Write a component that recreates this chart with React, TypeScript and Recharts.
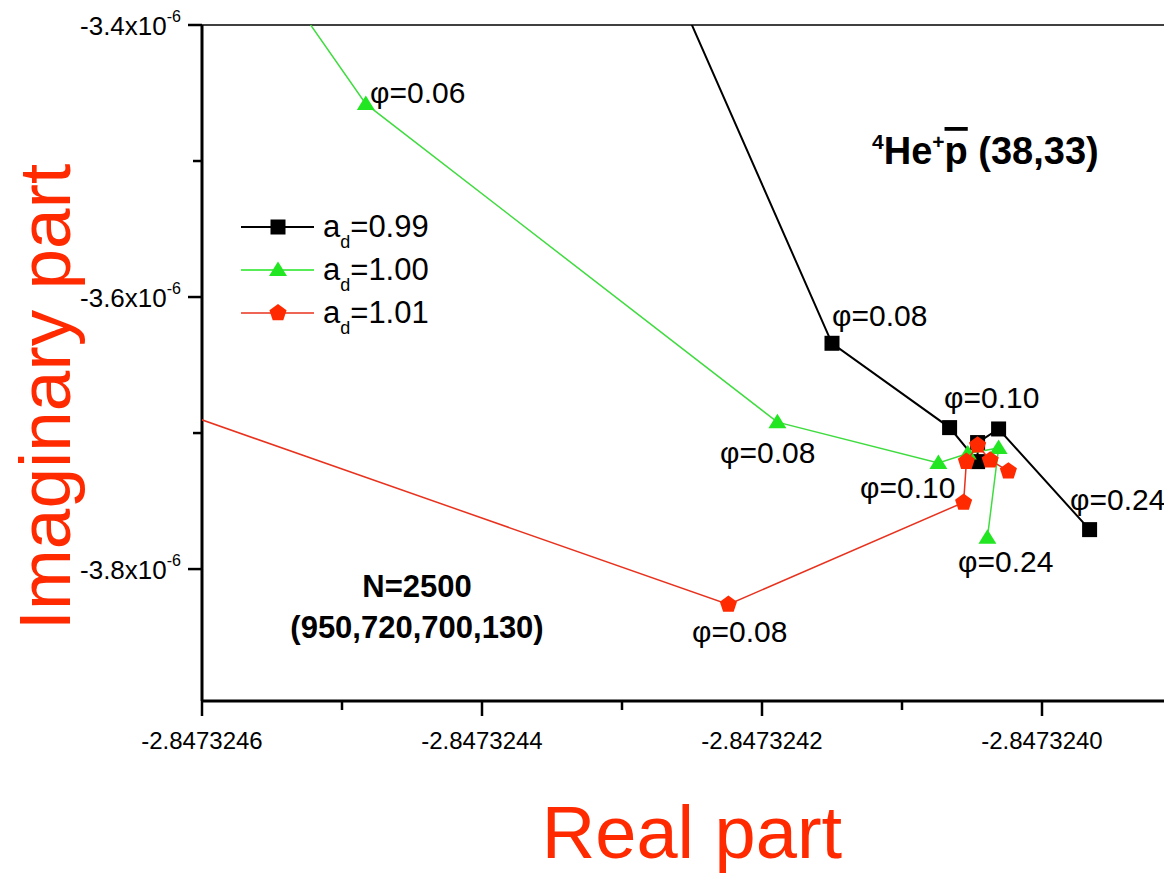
import {
  ScatterChart,
  Scatter,
  XAxis,
  YAxis,
  ReferenceLine,
  ReferenceDot,
} from "recharts";

// real part / imaginary part of the complex energy, per scaling parameter a_d
const black099 = [
  { x: -2.84732428, y: -3.33e-6 },
  { x: -2.84732415, y: -3.634e-6 },
  { x: -2.847324066, y: -3.696e-6 },
  { x: -2.847324046, y: -3.721e-6 },
  { x: -2.847324046, y: -3.707e-6 },
  { x: -2.847324031, y: -3.697e-6 },
  { x: -2.847323966, y: -3.771e-6 },
];

const green100 = [
  { x: -2.847324557, y: -3.349e-6 },
  { x: -2.847324483, y: -3.458e-6 },
  { x: -2.847324189, y: -3.692e-6 },
  { x: -2.847324074, y: -3.722e-6 },
  { x: -2.847324053, y: -3.715e-6 },
  { x: -2.847324031, y: -3.711e-6 },
  { x: -2.847324039, y: -3.777e-6 },
];

const red101 = [
  { x: -2.847324673, y: -3.664e-6 },
  { x: -2.847324224, y: -3.826e-6 },
  { x: -2.847324056, y: -3.751e-6 },
  { x: -2.847324054, y: -3.721e-6 },
  { x: -2.847324046, y: -3.709e-6 },
  { x: -2.847324037, y: -3.72e-6 },
  { x: -2.847324024, y: -3.728e-6 },
];

const xTicks = [
  -2.8473246, -2.8473245, -2.8473244, -2.8473243, -2.8473242, -2.8473241,
  -2.847324, -2.8473239,
];
const yTicks = [-3.8e-6, -3.7e-6, -3.6e-6, -3.5e-6, -3.4e-6];

// phi labels, anchored at their own spot in data space
const phiLabels = [
  { text: "φ=0.06", x: -2.84732448, y: -3.4574e-6 },
  { text: "φ=0.08", x: -2.84732415, y: -3.6213e-6 },
  { text: "φ=0.10", x: -2.84732407, y: -3.6816e-6 },
  { text: "φ=0.24", x: -2.84732398, y: -3.7566e-6 },
  { text: "φ=0.08", x: -2.84732423, y: -3.7221e-6 },
  { text: "φ=0.10", x: -2.84732413, y: -3.7478e-6 },
  { text: "φ=0.24", x: -2.84732406, y: -3.8022e-6 },
  { text: "φ=0.08", x: -2.84732425, y: -3.8537e-6 },
];

const legendNames = ["0.99", "1.00", "1.01"];

const FONT = "'Liberation Sans', Arial, Helvetica, sans-serif";
const RED = "#ff2a00";
const GREEN = "#22e622";

function Square(p: any) {
  return <rect x={p.cx - 7.5} y={p.cy - 7.5} width={15} height={15} fill="#000" />;
}

function Triangle(p: any) {
  const { cx, cy } = p;
  return (
    <path d={`M${cx},${cy - 8.5} L${cx + 9},${cy + 6} L${cx - 9},${cy + 6} Z`} fill={GREEN} />
  );
}

function pentagonPath(cx: number, cy: number, r: number) {
  const pts = [];
  for (let k = 0; k < 5; k++) {
    const a = ((-90 + k * 72) * Math.PI) / 180;
    pts.push(`${cx + r * Math.cos(a)},${cy + r * Math.sin(a)}`);
  }
  return `M${pts.join(" L")} Z`;
}

function Pentagon(p: any) {
  return <path d={pentagonPath(p.cx, p.cy, 9)} fill={RED} />;
}

function XTick({ x, y, payload }: any) {
  const major = Math.round(payload.value * 1e7) % 2 === 0;
  return (
    <g>
      <line x1={x} x2={x} y1={y} y2={y + (major ? 15 : 9)} stroke="#000" strokeWidth={2.5} />
      {major && (
        <text x={x} y={y + 48} textAnchor="middle" fontSize={24} fontFamily={FONT} fill="#000">
          {payload.value.toFixed(7)}
        </text>
      )}
    </g>
  );
}

function YTick({ x, y, payload }: any) {
  const major = Math.round(payload.value * 1e7) % 2 === 0;
  return (
    <g>
      <line x1={x} x2={x - (major ? 14 : 9)} y1={y} y2={y} stroke="#000" strokeWidth={2.5} />
      {major && (
        <text x={x - 21} y={y + 10} textAnchor="end" fontSize={26} fontFamily={FONT} fill="#000">
          {(payload.value * 1e6).toFixed(1)}x10
          <tspan dy={-13} fontSize={16}>
            -6
          </tspan>
        </text>
      )}
    </g>
  );
}

function PhiLabel(p: any, text: string) {
  return (
    <text x={p.cx} y={p.cy} fontSize={30} fontFamily={FONT} fill="#000">
      {text}
    </text>
  );
}

function LegendRow({ i }: { i: number }) {
  const cy = 227 + i * 43;
  const color = ["#000", GREEN, "#e8321e"][i];
  const Marker = [Square, Triangle, Pentagon][i];
  return (
    <g>
      <line x1={241} x2={314} y1={cy} y2={cy} stroke={color} strokeWidth={i === 0 ? 2 : 1.5} />
      <Marker cx={278} cy={cy} />
      <text x={323} y={cy + 10} fontSize={31} fontFamily={FONT} fill="#000">
        a
        <tspan dy={11} fontSize={18}>
          d
        </tspan>
        <tspan dy={-11}>={legendNames[i]}</tspan>
      </text>
    </g>
  );
}

export default function App() {
  return (
    <div
      style={{
        position: "fixed",
        left: 0,
        top: 0,
        width: 1164,
        height: 873,
        overflow: "hidden",
        background: "#fff",
      }}
    >
      <ScatterChart width={1200} height={873} margin={{ top: 25, right: 18, bottom: 0, left: 0 }}>
        <XAxis
          type="number"
          dataKey="x"
          domain={[-2.8473246, -2.8473239]}
          allowDataOverflow
          ticks={xTicks}
          interval={0}
          tick={<XTick />}
          tickLine={false}
          tickSize={0}
          tickMargin={0}
          height={172}
          axisLine={{ stroke: "#000", strokeWidth: 3 }}
          label={{
            value: "Real part",
            position: "insideBottom",
            offset: 15,
            fontSize: 74,
            fill: RED,
            fontFamily: FONT,
          }}
        />
        <YAxis
          type="number"
          dataKey="y"
          domain={[-3.897e-6, -3.4e-6]}
          allowDataOverflow
          ticks={yTicks}
          interval={0}
          tick={<YTick />}
          tickLine={false}
          tickSize={0}
          tickMargin={0}
          width={202}
          axisLine={{ stroke: "#000", strokeWidth: 3 }}
        />
        <ReferenceLine y={-3.4e-6} stroke="#000" strokeWidth={1.5} />

        <Scatter
          data={black099}
          line={{ stroke: "#000", strokeWidth: 2 }}
          lineType="joint"
          shape={Square}
          isAnimationActive={false}
        />
        <Scatter
          data={green100}
          line={{ stroke: "#3fdc3f", strokeWidth: 1.5 }}
          lineType="joint"
          shape={Triangle}
          isAnimationActive={false}
        />
        <Scatter
          data={red101}
          line={{ stroke: "#e8321e", strokeWidth: 1.5 }}
          lineType="joint"
          shape={Pentagon}
          isAnimationActive={false}
        />

        {phiLabels.map((l, i) => (
          <ReferenceDot
            key={i}
            x={l.x}
            y={l.y}
            r={0}
            shape={(p: any) => PhiLabel(p, l.text)}
          />
        ))}

        <text
          transform="translate(70,397) rotate(-90)"
          textAnchor="middle"
          fontSize={73}
          fontFamily={FONT}
          fill={RED}
        >
          Imaginary part
        </text>

        <g>
          {[0, 1, 2].map((i) => (
            <LegendRow key={i} i={i} />
          ))}
        </g>

        <text x={872} y={164} fontSize={38} fontWeight="bold" fontFamily={FONT} fill="#000">
          <tspan dy={-15} fontSize={21}>
            4
          </tspan>
          <tspan dy={15}>He</tspan>
          <tspan dy={-15} fontSize={21}>
            +
          </tspan>
          <tspan dy={15} textDecoration="overline">
            p
          </tspan>
          <tspan> (38,33)</tspan>
        </text>

        <text x={417} y={597} textAnchor="middle" fontSize={31} fontWeight="bold" fontFamily={FONT}>
          N=2500
        </text>
        <text x={417} y={638} textAnchor="middle" fontSize={31} fontWeight="bold" fontFamily={FONT}>
          (950,720,700,130)
        </text>
      </ScatterChart>
    </div>
  );
}
